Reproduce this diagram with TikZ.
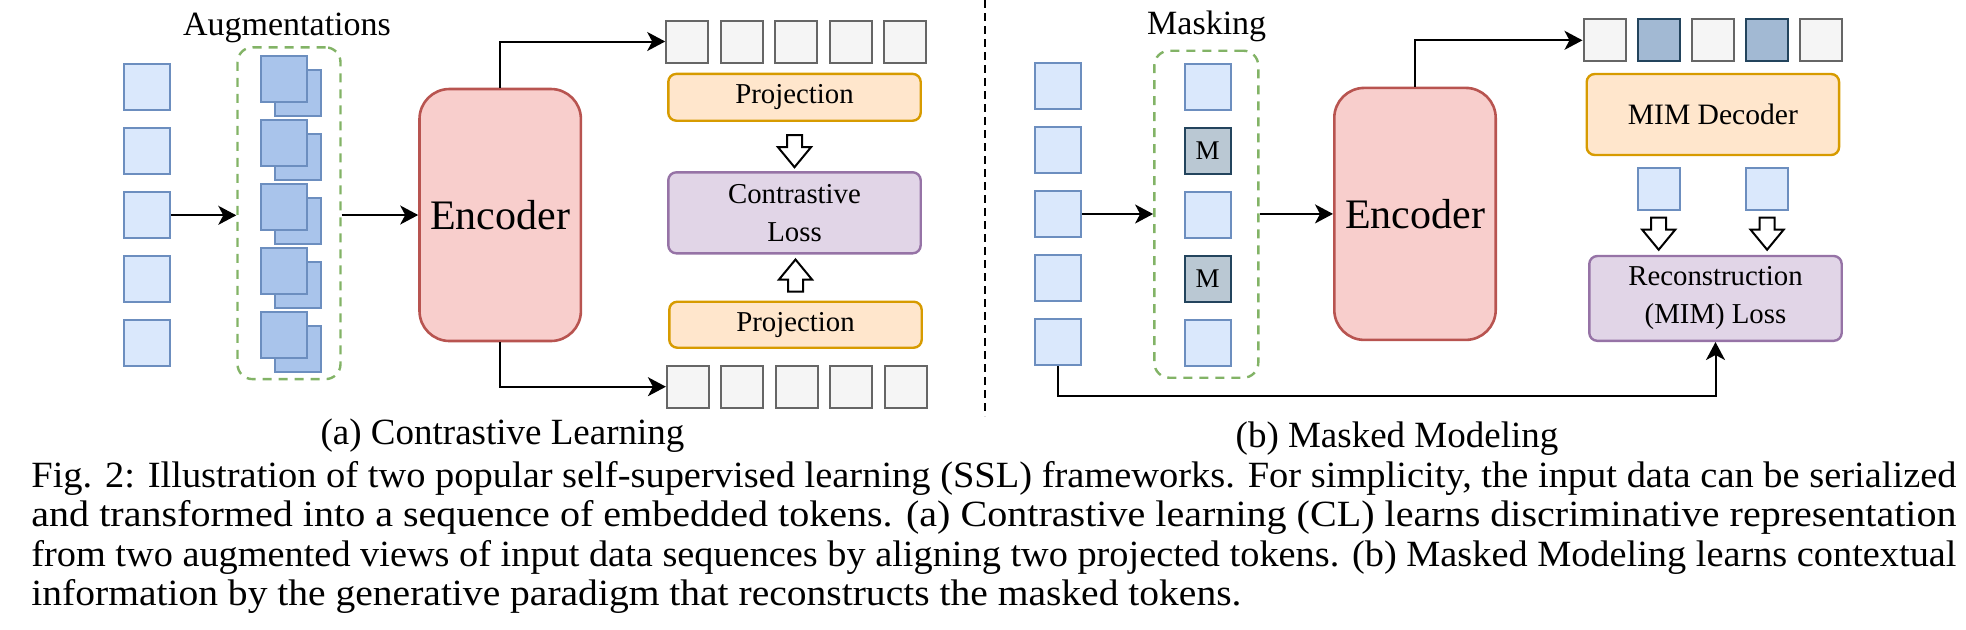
\documentclass[tikz,border=0pt]{standalone}
\usepackage{fontspec}
\setmainfont{Liberation Serif}
\usepackage{graphicx}
\usetikzlibrary{arrows.meta, positioning}

\definecolor{tokfill}{HTML}{DAE8FC}
\definecolor{tokdraw}{HTML}{6C8EBF}
\definecolor{augfill}{HTML}{A9C4EB}
\definecolor{mfill}{HTML}{BAC8D3}
\definecolor{mdraw}{HTML}{23445D}
\definecolor{embfill}{HTML}{F5F5F5}
\definecolor{embdraw}{HTML}{666666}
\definecolor{embmfill}{HTML}{A2B9D3}
\definecolor{grpdraw}{HTML}{82B366}
\definecolor{encfill}{HTML}{F8CECC}
\definecolor{encdraw}{HTML}{B85450}
\definecolor{projfill}{HTML}{FFE6CC}
\definecolor{projdraw}{HTML}{D79B00}
\definecolor{lossfill}{HTML}{E1D5E7}
\definecolor{lossdraw}{HTML}{9673A6}

\tikzset{
  tok/.style={draw=tokdraw, fill=tokfill, line width=1pt, minimum size=23pt, inner sep=0pt},
  augtok/.style={tok, fill=augfill},
  mtok/.style={draw=mdraw, fill=mfill, line width=1pt, minimum size=23pt, inner sep=0pt, font=\fontsize{13.5}{16}\selectfont},
  emb/.style={draw=embdraw, fill=embfill, line width=1pt, minimum size=21pt, inner sep=0pt},
  embm/.style={emb, draw=mdraw, fill=embmfill},
  group/.style={draw=grpdraw, dash pattern=on 4.5pt off 3.5pt, line width=1.2pt, rounded corners=7.5pt, inner sep=0pt},
  encoder/.style={draw=encdraw, fill=encfill, line width=1.3pt, rounded corners=15pt, minimum width=80.7pt, minimum height=126pt, font=\fontsize{21}{25}\selectfont},
  proj/.style={draw=projdraw, fill=projfill, line width=1.2pt, rounded corners=4pt, minimum width=126.2pt, align=center, font=\fontsize{14.4}{19}\selectfont},
  loss/.style={proj, draw=lossdraw, fill=lossfill},
  conn/.style={line width=1pt, -{Stealth[length=9pt, width=9.5pt, inset=2.5pt]}},
  label/.style={anchor=base, inner sep=0pt, font=\fontsize{17}{20}\selectfont},
  sublabel/.style={anchor=base, inner sep=0pt, font=\fontsize{18.5}{22}\selectfont},
  capline/.style={anchor=base west, inner sep=0pt, font=\fontsize{18.5}{22}\selectfont},
  hdown/.pic={\draw[line width=1pt, fill=white] (-7.5,0) -- (7.5,0) -- (7.5,12) -- (16.5,12) -- (0,32) -- (-16.5,12) -- (-7.5,12) -- cycle;},
  hup/.pic={\draw[line width=1pt, fill=white] (0,0) -- (16.5,20) -- (7.5,20) -- (7.5,32) -- (-7.5,32) -- (-7.5,20) -- (-16.5,20) -- cycle;},
}

\begin{document}
\begin{tikzpicture}[x=0.5pt, y=-0.5pt]

\useasboundingbox (0,0) rectangle (1966,629);

% (a) contrastive learning
\node[label] (auglbl) at (287,35) {Augmentations};

\foreach \i in {1,...,5} {
\node[tok] (ina\i) at (147.3, 23.3+64*\i) {};
\node[augtok] (augb\i) at (297.5, 29+64*\i) {};
\node[augtok] (augf\i) at (284.3, 15+64*\i) {};
}
\node[group, minimum width=51.5pt, minimum height=165.9pt] (auga) at (289,213.2) {};

\node[encoder] (enca) at (500.2,215) {Encoder};

\foreach \i in {1,...,5} {
\node[emb] (tta\i) at (632.7+54.5*\i, 41.5) {};
\node[emb] (tba\i) at (633.4+54.5*\i, 386.7) {};
}

\node[proj, minimum height=23.4pt] (proja) at (794.5,97.3) {Projection};
\node[loss, minimum height=40.5pt] (lossa) at (794.5,212.8) {Contrastive\\Loss};
\node[proj, minimum height=23pt] (projb) at (795.5,324.7) {Projection};

\path (proja.south) ++(0,13.3) pic {hdown};
\path (projb.north) ++(0,-41) pic {hup};

\draw[conn] (ina3.east) -- (ina3.east -| auga.west);
\draw[conn] (auga.east |- enca.west) -- (enca.west);
\draw[conn] (enca.north) |- (tta1.west);
\draw[conn] (enca.south) |- (tba1.west);

\node[sublabel] (capa) at (502.5,444) {(a) Contrastive Learning};

\draw[line width=1pt, dash pattern=on 4pt off 2.5pt] (985,0) -- (985,416);

% (b) masked modeling
\node[label] (masklbl) at (1206.7,34.3) {Masking};

\foreach \i in {1,...,5}
\node[tok] (inb\i) at (1058, 22+64*\i) {};
\foreach \i in {1,3,5}
\node[tok] (colb\i) at (1207.5, 23+64*\i) {};
\foreach \i in {2,4}
\node[mtok] (colb\i) at (1207.5, 23+64*\i) {M};
\node[group, minimum width=52pt, minimum height=163.5pt] (maskb) at (1206.3,214.2) {};

\node[encoder] (encb) at (1415,213.9) {Encoder};

\foreach \i in {1,3,5}
\node[emb] (ttb\i) at (1550.3+54.2*\i, 40.3) {};
\foreach \i in {2,4}
\node[embm] (ttb\i) at (1550.3+54.2*\i, 40.3) {};

\node[proj, minimum height=40.5pt, font=\fontsize{14.8}{19}\selectfont] (decb) at (1712.9,114.5) {MIM Decoder};

\node[tok, minimum size=21pt] (ob1) at (1658.7,188.7) {};
\node[tok, minimum size=21pt] (ob2) at (1767.1,188.7) {};
\path (ob1.south) ++(0,7) pic {hdown};
\path (ob2.south) ++(0,7) pic {hdown};

\node[loss, minimum height=42.4pt] (lossb) at (1715.5,298.4) {Reconstruction\\(MIM) Loss};

\draw[conn] (inb3.east) -- (inb3.east -| maskb.west);
\draw[conn] (maskb.east |- encb.west) -- (encb.west);
\draw[conn] (encb.north) |- (ttb1.west);
\coordinate (retb) at (1058,396);
\draw[conn] (inb5.south) -- (retb) -| (lossb.south);

\node[sublabel] (capb) at (1397,447) {(b) Masked Modeling};

% figure caption
\node[capline] (cap1) at (31,487) {\resizebox{962.5pt}{\height}{Fig. 2: Illustration of two popular self-supervised learning (SSL) frameworks. For simplicity, the input data can be serialized}};
\node[capline] (cap2) at (31,526.5) {\resizebox{962.5pt}{\height}{and transformed into a sequence of embedded tokens. (a) Contrastive learning (CL) learns discriminative representation}};
\node[capline] (cap3) at (31,566) {\resizebox{962.5pt}{\height}{from two augmented views of input data sequences by aligning two projected tokens. (b) Masked Modeling learns contextual}};
\node[capline] (cap4) at (31,605.5) {\resizebox{605pt}{\height}{information by the generative paradigm that reconstructs the masked tokens.}};

\end{tikzpicture}
\end{document}
